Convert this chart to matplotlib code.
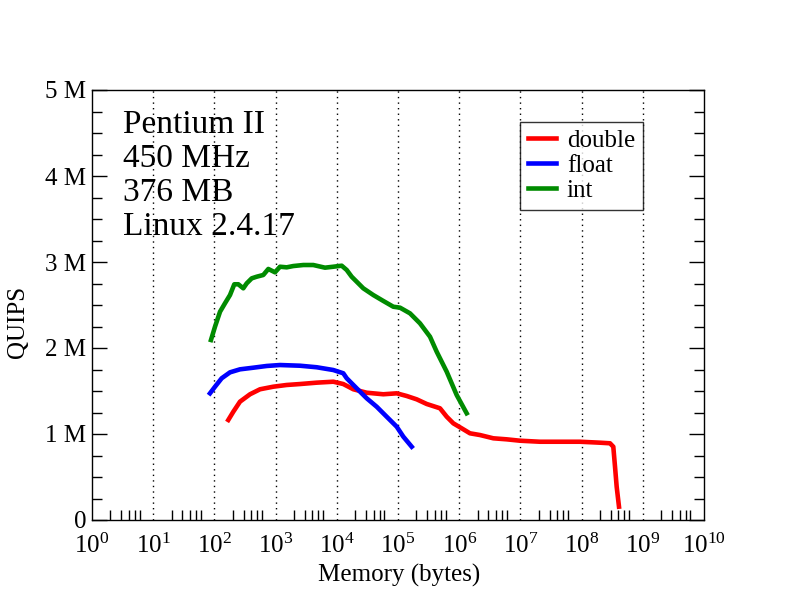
# QUIPS vs memory size, Pentium II benchmark (xmgrace style)

import numpy as np
import matplotlib
matplotlib.use('Agg')
import matplotlib.pyplot as plt
from matplotlib.ticker import FixedLocator, FuncFormatter, NullFormatter

plt.rcParams['font.family'] = ['Liberation Serif', 'DejaVu Serif']
plt.rcParams['mathtext.fontset'] = 'custom'
plt.rcParams['mathtext.rm'] = 'Liberation Serif'
plt.rcParams['mathtext.it'] = 'Liberation Serif'

# data: log10(memory in bytes), QUIPS in millions
double_logmem = [2.227, 2.309, 2.418, 2.582, 2.745, 2.962, 3.181, 3.399, 3.672,
                 3.943, 4.106, 4.270, 4.489, 4.760, 4.979, 5.142, 5.306, 5.469,
                 5.686, 5.796, 5.904, 6.041, 6.176, 6.340, 6.557, 6.776, 6.993,
                 7.320, 7.647, 7.974, 8.301, 8.464, 8.518, 8.546, 8.573, 8.611]
double_quips = [1.163, 1.259, 1.376, 1.462, 1.520, 1.550, 1.570, 1.581, 1.597,
                1.608, 1.581, 1.520, 1.480, 1.462, 1.473, 1.442, 1.403, 1.349,
                1.299, 1.201, 1.124, 1.066, 1.008, 0.988, 0.950, 0.938, 0.922,
                0.910, 0.910, 0.910, 0.899, 0.892, 0.852, 0.620, 0.387, 0.155]

float_logmem = [1.928, 2.010, 2.119, 2.255, 2.418, 2.636, 2.855, 3.072, 3.399,
                3.672, 3.943, 4.106, 4.162, 4.325, 4.489, 4.652, 4.815, 4.979,
                5.087, 5.224]
float_quips = [1.473, 1.550, 1.648, 1.717, 1.752, 1.771, 1.791, 1.802, 1.794,
               1.776, 1.744, 1.706, 1.648, 1.531, 1.415, 1.317, 1.201, 1.085,
               0.969, 0.852]

int_logmem = [1.944, 2.010, 2.092, 2.173, 2.255, 2.325, 2.391, 2.472, 2.528,
              2.610, 2.691, 2.799, 2.881, 2.990, 3.072, 3.181, 3.289, 3.453,
              3.616, 3.807, 3.943, 4.080, 4.162, 4.243, 4.433, 4.596, 4.760,
              4.923, 5.033, 5.196, 5.359, 5.523, 5.632, 5.796, 5.959, 6.122]
int_quips = [2.093, 2.248, 2.422, 2.520, 2.616, 2.741, 2.741, 2.694, 2.752,
             2.810, 2.829, 2.849, 2.919, 2.880, 2.945, 2.938, 2.953, 2.965,
             2.965, 2.934, 2.945, 2.957, 2.907, 2.829, 2.694, 2.616, 2.547,
             2.480, 2.469, 2.403, 2.287, 2.131, 1.957, 1.724, 1.453, 1.241]

info_lines = ['Pentium II', '450 MHz', '376 MB', 'Linux 2.4.17']

fig = plt.figure(figsize=(7.92, 6.12), dpi=100)
ax = fig.add_axes([92 / 792, 92 / 612, 612 / 792, 430 / 612])

lw = 3.3
ax.plot(10 ** np.array(double_logmem), np.array(double_quips) * 1e6,
        color='#ff0000', lw=lw, label='double')
ax.plot(10 ** np.array(float_logmem), np.array(float_quips) * 1e6,
        color='#0000ff', lw=lw, label='float')
ax.plot(10 ** np.array(int_logmem), np.array(int_quips) * 1e6,
        color='#008b00', lw=lw, label='int')

ax.set_xscale('log')
ax.set_xlim(1, 1e10)
ax.set_ylim(0, 5e6)

# x axis: decades, minor ticks at 2..6 like the original
ax.xaxis.set_major_locator(FixedLocator([10.0 ** k for k in range(11)]))
ax.xaxis.set_major_formatter(FuncFormatter(lambda v, p: r'$10^{%d}$' % round(np.log10(v))))
minors = [m * 10.0 ** k for k in range(10) for m in (2, 3, 4, 5, 6)]
ax.xaxis.set_minor_locator(FixedLocator(minors))
ax.xaxis.set_minor_formatter(NullFormatter())
ax.tick_params(axis='x', which='major', length=0, pad=10, labelsize=18)
ax.tick_params(axis='x', which='minor', direction='in', length=7, width=1, top=False)

# y axis
ax.yaxis.set_major_locator(FixedLocator([0, 1e6, 2e6, 3e6, 4e6, 5e6]))
ax.yaxis.set_minor_locator(FixedLocator(np.arange(0, 5e6, 0.25e6)))
ax.yaxis.set_major_formatter(FuncFormatter(lambda v, p: '0' if v == 0 else '%d M' % round(v / 1e6)))
ax.tick_params(axis='y', which='major', direction='in', length=11, width=1,
               left=True, right=True, labelsize=18, pad=4)
ax.tick_params(axis='y', which='minor', direction='in', length=7, width=1,
               left=True, right=True)

for s in ax.spines.values():
    s.set_linewidth(1)

# dotted vertical grid at the inner decades
for k in range(1, 10):
    ax.axvline(10.0 ** k, color='black', lw=1, linestyle=(0, (1, 3)), zorder=0)

fig.text(399 / 792, 1 - 575 / 612, 'Memory (bytes)', fontsize=18,
         ha='center', va='center')
fig.text(18 / 792, 1 - 322 / 612, 'QUIPS', fontsize=18, rotation=90,
         ha='center', va='center')

for i, line in enumerate(info_lines):
    fig.text(123 / 792, 1 - (133 + 34 * i) / 612, line, fontsize=24,
             ha='left', va='baseline')

leg = ax.legend(loc='upper left', bbox_to_anchor=((520 - 92) / 612, (520 - 122) / 430),
                fontsize=18, frameon=True, fancybox=False, shadow=False,
                handlelength=1.12, handletextpad=0.45, labelspacing=0.1,
                borderpad=0.3, borderaxespad=0)
leg.get_frame().set_edgecolor('black')
leg.get_frame().set_linewidth(1)

fig.savefig('out.png', dpi=100)
